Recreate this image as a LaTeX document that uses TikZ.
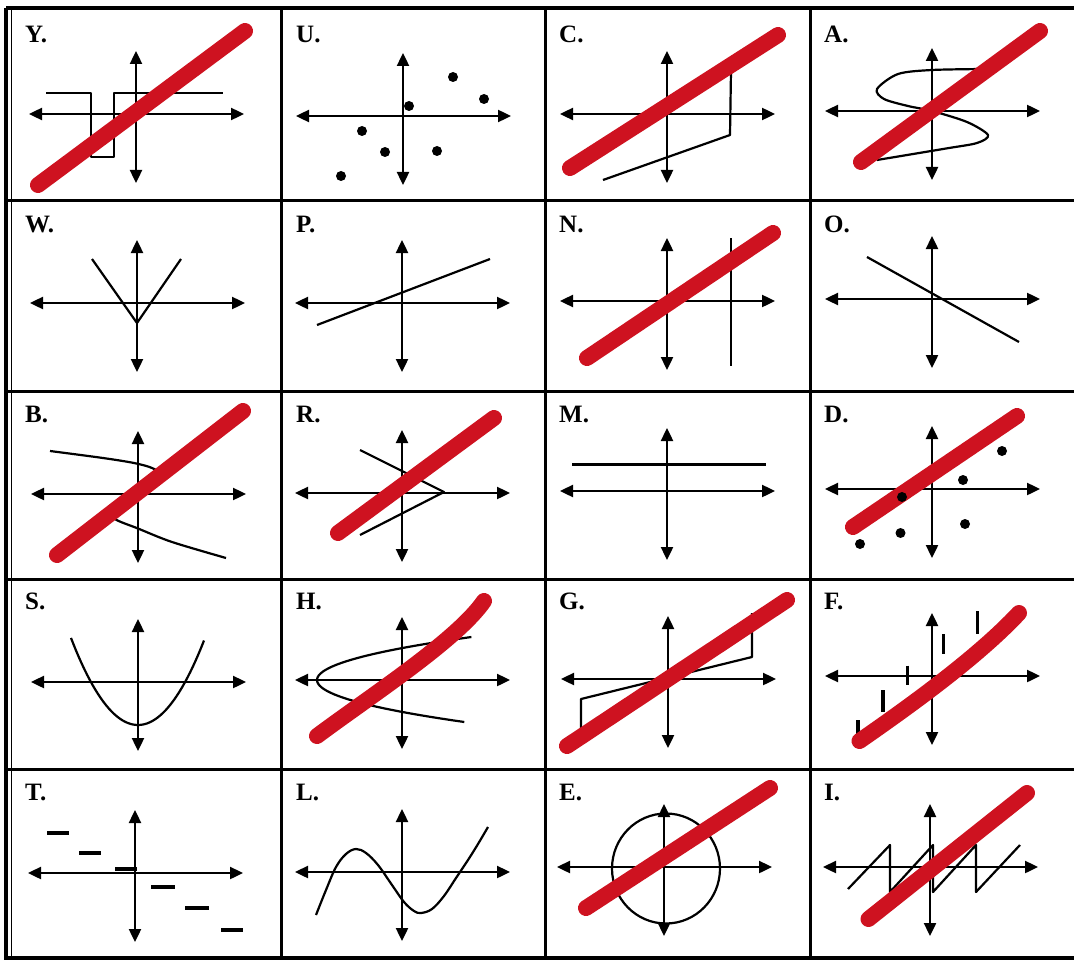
\documentclass[tikz,border=0pt]{standalone}
\usepackage{fontspec}
\setmainfont{Liberation Serif}
\usetikzlibrary{arrows.meta}

\definecolor{marker}{RGB}{206,18,32}

% both axes of one cell, drawn round its local origin
\newcommand{\cellaxes}{%
  \draw[axis] (-107,0) -- (108,0);
  \draw[axis] (0,-69) -- (0,63);
}

\begin{document}
\begin{tikzpicture}[x=1pt,y=-1pt,
  axis/.style={line width=2.4pt,{Triangle[length=13pt,width=12pt]}-{Triangle[length=13pt,width=12pt]}},
  graph/.style={line width=2.2pt,line join=round},
  redline/.style={line width=16pt,color=marker,line cap=round},
  tick/.style={line width=3.2pt}]

\useasboundingbox (0,0) rectangle (1074,963);
\clip (0,0) rectangle (1074,963);
\fill[white] (0,0) rectangle (1074,963);

% Outer frame
\draw[line width=4.5pt] (6,8) -- (1090,8);
\draw[line width=4.5pt] (6,8) -- (6,958) -- (1090,958);
\draw[line width=1.8pt] (11.5,10) -- (11.5,956);

% Grid lines
\foreach \gx in {281,545,810}
  \draw[line width=3pt] (\gx,8) -- (\gx,958);
\foreach \gy in {200,391,579,769}
  \draw[line width=3pt] (6,\gy) -- (1090,\gy);

% Labels
\foreach \lab [count=\i from 0] in {Y,U,C,A,W,P,N,O,B,R,M,D,S,H,G,F,T,L,E,I} {
  \pgfmathsetmacro{\lx}{{25,296,559,824}[mod(\i,4)]}
  \pgfmathsetmacro{\ly}{{43,232,422,609,800}[int(\i/4)]}
  \node[anchor=base west,inner sep=0pt,font=\bfseries\fontsize{25}{25}\selectfont]
    (lab\lab) at (\lx,\ly) {\lab.};
}

% Y: step
\begin{scope}[shift={(136,114)},yscale=-1]
  \cellaxes
  \draw[graph] (-90,21) -- (-45,21) -- (-45,-43) -- (-22,-43) -- (-22,21) -- (87,21);
  \draw[redline] (-98,-71) -- (109,83);
\end{scope}

% U: scatter
\begin{scope}[shift={(403,116)},yscale=-1]
  \cellaxes
  \foreach \p in {(50,39),(81,17),(6,10),(-41,-15),(-18,-36),(34,-35),(-62,-60)}
    \fill \p circle[radius=5];
\end{scope}

% C: bent line
\begin{scope}[shift={(667,114)},yscale=-1]
  \cellaxes
  \draw[graph] (-64,-66) -- (63,-21) -- (64,43);
  \draw[redline] (-97,-54) -- (111,79);
\end{scope}

% A: sideways S
\begin{scope}[shift={(932,111)},yscale=-1]
  \cellaxes
  \draw[graph] plot[smooth] coordinates {(52,42) (0,41) (-34,37) (-55,22) (-48,12)
    (-24,5) (0,0) (35,-11) (56,-24) (45,-32) (14,-37.5) (-55,-49)};
  \draw[redline] (-71,-51) -- (108,80);
\end{scope}

% W: absolute value
\begin{scope}[shift={(137,303)},yscale=-1]
  \cellaxes
  \draw[graph] (-45,44) -- (0,-20) -- (44,44);
\end{scope}

% P: line
\begin{scope}[shift={(402,303)},yscale=-1]
  \cellaxes
  \draw[graph] (-85,-22) -- (88,44);
\end{scope}

% N: vertical line
\begin{scope}[shift={(667,301)},yscale=-1]
  \cellaxes
  \draw[graph] (64,63) -- (64,-65);
  \draw[redline] (-80,-57) -- (106,68);
\end{scope}

% O: falling line
\begin{scope}[shift={(932,299)},yscale=-1]
  \cellaxes
  \draw[graph] (-65,42) -- (87,-43);
\end{scope}

% B: folded curve
\begin{scope}[shift={(138,494)},yscale=-1]
  \cellaxes
  \draw[graph] plot[smooth] coordinates {(-88,43) (-35,36) (-4,31) (14,26) (21,19)
    (0,2) (-22,-17) (-23,-25) (0,-34.5) (34,-48) (88,-64)};
  \draw[redline] (-81,-61) -- (105,83);
\end{scope}

% R: wedge
\begin{scope}[shift={(402,493)},yscale=-1]
  \cellaxes
  \draw[graph] (-42,43) -- (42,1) -- (-42,-42);
  \draw[redline] (-64,-40) -- (92,75);
\end{scope}

% M: constant
\begin{scope}[shift={(667,491)},yscale=-1]
  \cellaxes
  \draw[graph] (-95,26.5) -- (99,26.5);
\end{scope}

% D: scatter with trend
\begin{scope}[shift={(932,489)},yscale=-1]
  \cellaxes
  \draw[redline] (-79,-38) -- (85,73);
  \foreach \p in {(70,38),(31,9),(-30,-8),(33,-35),(-31.5,-44),(-72,-55)}
    \fill \p circle[radius=5];
\end{scope}

% S: parabola
\begin{scope}[shift={(138,682)},yscale=-1]
  \cellaxes
  \draw[graph] plot[domain=-67:66,samples=50] (\x,{-43+0.0194*\x*\x});
\end{scope}

% H: sideways parabola
\begin{scope}[shift={(402,680)},yscale=-1]
  \cellaxes
  \draw[graph] plot[variable=\t,domain=-42:43,samples=50] ({-85+0.0835*\t*\t},\t);
  \draw[redline] (-85,-56) .. controls (-30,-15) and (55,40) .. (82,79);
\end{scope}

% G: bent line
\begin{scope}[shift={(668,679)},yscale=-1]
  \cellaxes
  \draw[graph] (-87,-62) -- (-87,-20) -- (84,22) -- (84,66);
  \draw[redline] (-101,-67) -- (119,79);
\end{scope}

% F: steps
\begin{scope}[shift={(932,676)},yscale=-1]
  \cellaxes
  \draw[tick] (-74,-44) -- (-74,-62);
  \draw[tick] (-49,-14) -- (-49,-36);
  \draw[tick] (-24.5,10.5) -- (-24.5,-9);
  \draw[tick] (11.5,42) -- (11.5,22);
  \draw[tick] (45.5,65) -- (45.5,42.5);
  \draw[redline] (-72.5,-65) .. controls (-25,-32) and (45,18) .. (87,63);
\end{scope}

% T: dashes
\begin{scope}[shift={(135,873)},yscale=-1]
  \cellaxes
  \foreach \a/\b/\h in {-88/-66/40,-56/-34/20,-20/2/4,16/40/-14,50/74/-35,86/108/-57}
    \draw[tick] (\a,\h) -- (\b,\h);
\end{scope}

% L: cubic wave
\begin{scope}[shift={(402,872)},yscale=-1]
  \cellaxes
  \draw[graph] plot[smooth,tension=0.6] coordinates {(-86,-43) (-76,-18) (-66,5)
    (-56,18) (-46,23) (-36,19) (-24,7) (-10,-13) (2,-30) (12,-39) (19,-41)
    (30,-37) (42,-24) (54,-6) (66,12) (76,28) (86,45)};
\end{scope}

% E: circle
\begin{scope}[shift={(664,867)},yscale=-1]
  \cellaxes
  \draw[graph] (2,-1.5) ellipse[x radius=54,y radius=55];
  \draw[redline] (-78,-41) -- (106,79);
\end{scope}

% I: sawtooth
\begin{scope}[shift={(930,867)},yscale=-1]
  \cellaxes
  \draw[graph] (-82,-22) -- (-40,22) -- (-40,-25) -- (3,22) -- (3,-25) -- (46,22)
    -- (46,-25) -- (90,22);
  \draw[redline] (-61.5,-52) -- (97,74);
\end{scope}

\end{tikzpicture}
\end{document}
